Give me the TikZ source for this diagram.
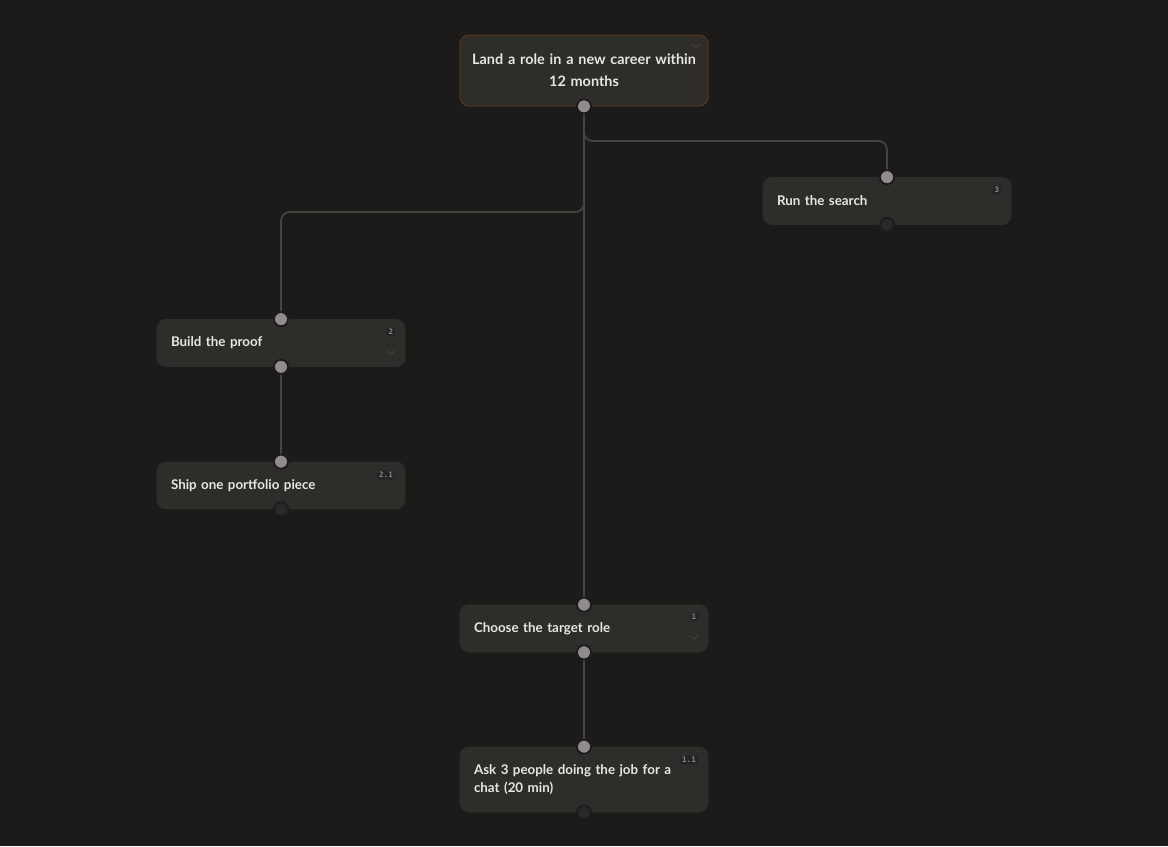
\documentclass[tikz,border=0pt]{standalone}
\usepackage{fontspec}
\setmainfont{Lato}
\setmonofont{DejaVu Sans Mono}
\definecolor{bgc}{HTML}{1C1B19}
\definecolor{cardc}{HTML}{2E2D2A}
\definecolor{edgec}{HTML}{45443F}
\definecolor{portc}{HTML}{8F8C89}
\definecolor{portd}{HTML}{2A2927}
\definecolor{textc}{HTML}{E8E6E2}
\definecolor{rootc}{HTML}{6A3A1E}
\definecolor{badgec}{HTML}{262523}
\definecolor{badget}{HTML}{8A8784}
\begin{document}
\begin{tikzpicture}[x=0.02cm,y=-0.02cm,
  card/.style={draw=cardc,fill=cardc,rounded corners=5pt,minimum width=248*0.02cm,
    minimum height=47*0.02cm,text width=220*0.02cm,align=left,text=textc,
    font=\fontsize{7.6}{10}\selectfont\bfseries,inner sep=0pt},
  goal/.style={card,draw=rootc,minimum height=71*0.02cm,align=center,
    text width=240*0.02cm,font=\fontsize{8.2}{12.5}\selectfont\bfseries},
  port/.style={circle,fill=portc,draw=bgc,line width=1pt,minimum size=8pt,inner sep=0pt},
  dport/.style={port,fill=portd},
  badge/.style={fill=badgec,rounded corners=1.5pt,text=badget,inner sep=1pt,
    font=\fontsize{4.3}{5}\ttfamily\bfseries},
  chev/.style={draw=edgec,line width=0.5pt},
  link/.style={draw=edgec,line width=1pt,rounded corners=5pt}]
\fill[bgc] (0,0) rectangle (1168,846);

% goal
\node[goal] (goal) at (584,70.5) {Land a role in a new career within\\12 months};
\draw[chev] (692,44) -- (696,47) -- (700,44);

% cards
\node[card] (search) at (887,201) {Run the search};
\node[card] (proof) at (281,343) {Build the proof};
\node[card] (ship) at (281,485.5) {Ship one portfolio piece};
\node[card] (choose) at (584,628.5) {Choose the target role};
\node[card,minimum height=65*0.02cm] (ask) at (584,779.5) {Ask 3 people doing the job for a\\chat (20 min)};

% badges
\node[badge] (b3) at (997,190) {3};
\node[badge] (b2) at (391,332) {2};
\node[badge] (b21) at (386,475) {2.1};
\node[badge] (b1) at (694,617) {1};
\node[badge] (b11) at (689,760) {1.1};
\draw[chev] (387,351) -- (391,354) -- (395,351);
\draw[chev] (690,636) -- (694,639) -- (698,636);

% links
\draw[link] (goal.south) |- (887,141) -- (search.north);
\draw[link] (goal.south) |- (281,212) -- (proof.north);
\draw[link] (goal.south) -- (choose.north);
\draw[link] (proof.south) -- (ship.north);
\draw[link] (choose.south) -- (ask.north);

% ports
\node[port] (pg) at (goal.south) {};
\node[port] (ps) at (search.north) {};
\node[dport] (ps2) at (search.south) {};
\node[port] (pp) at (proof.north) {};
\node[port] (pp2) at (proof.south) {};
\node[port] (psh) at (ship.north) {};
\node[dport] (psh2) at (ship.south) {};
\node[port] (pc) at (choose.north) {};
\node[port] (pc2) at (choose.south) {};
\node[port] (pa) at (ask.north) {};
\node[dport] (pa2) at (ask.south) {};
\end{tikzpicture}
\end{document}
